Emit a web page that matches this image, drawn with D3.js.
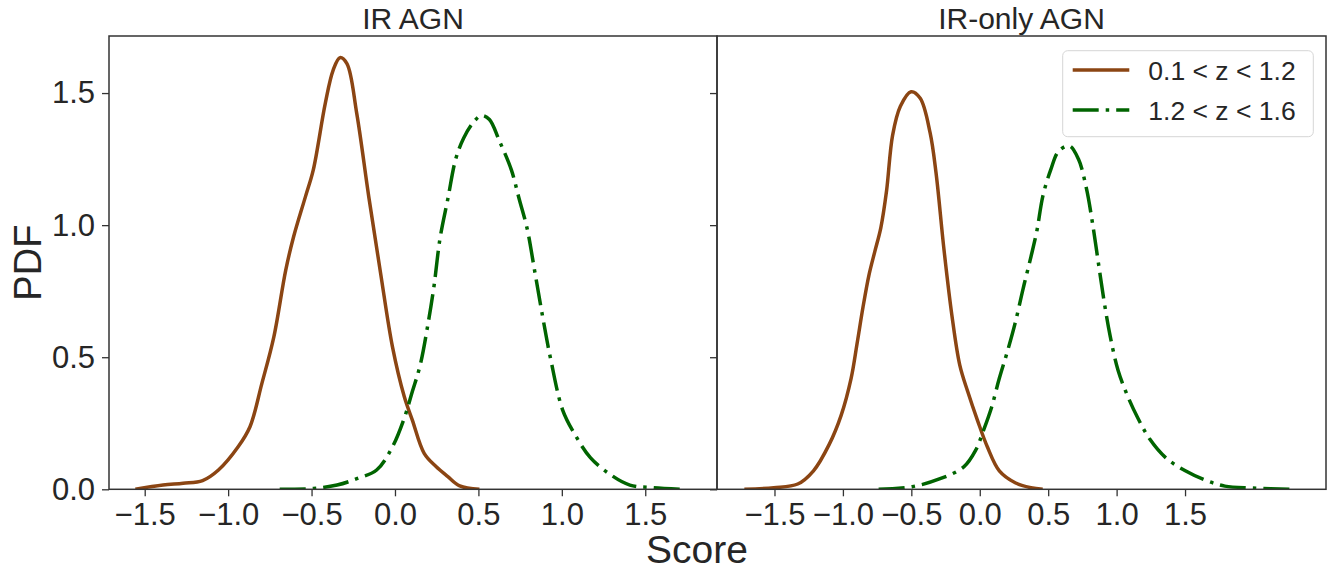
<!DOCTYPE html>
<html>
<head>
<meta charset="utf-8">
<script src="https://cdn.jsdelivr.net/npm/d3@7"></script>
<style>
  body { margin: 0; background: #fff; }
  text { font-family: "Liberation Sans", Arial, sans-serif; fill: #262626; }
  .frame { fill: none; stroke: #333; stroke-width: 1.5; }
  .tick line { stroke: #333; stroke-width: 1.3; }
  .kde { fill: none; stroke-width: 3.5; stroke-linejoin: round; }
</style>
</head>
<body>
<div id="chart"></div>
<script>
// panel titles and series labels
var panelTitles = ["IR AGN", "IR-only AGN"];
var seriesLabels = ["0.1 < z < 1.2", "1.2 < z < 1.6"];
var xTicks = [-1.5, -1.0, -0.5, 0.0, 0.5, 1.0, 1.5];
var yTicks = [0.0, 0.5, 1.0, 1.5];

// IR AGN, low z (brown)
var irLowX = [-1.556, -1.39, -1.27, -1.153, -1.058, -0.94, -0.869, -0.798, -0.726, -0.655, -0.608, -0.537, -0.49, -0.418, -0.371, -0.33, -0.288, -0.229, -0.157, -0.086, -0.015, 0.056, 0.104, 0.175, 0.246, 0.317, 0.388, 0.506];
var irLowY = [0.0, 0.016, 0.023, 0.033, 0.073, 0.161, 0.237, 0.40, 0.577, 0.829, 0.955, 1.107, 1.208, 1.46, 1.586, 1.634, 1.611, 1.422, 1.107, 0.817, 0.539, 0.350, 0.262, 0.136, 0.086, 0.048, 0.013, 0.0];
// IR AGN, high z (green)
var irHighX = [-0.691, -0.49, -0.347, -0.229, -0.11, -0.015, 0.056, 0.104, 0.151, 0.199, 0.234, 0.27, 0.317, 0.364, 0.412, 0.471, 0.518, 0.566, 0.625, 0.697, 0.744, 0.791, 0.839, 0.886, 0.934, 1.005, 1.076, 1.171, 1.29, 1.408, 1.55, 1.728];
var irHighY = [0.0, 0.003, 0.016, 0.04, 0.073, 0.161, 0.27, 0.37, 0.47, 0.63, 0.77, 0.95, 1.10, 1.25, 1.33, 1.39, 1.415, 1.40, 1.32, 1.21, 1.10, 0.99, 0.82, 0.65, 0.49, 0.30, 0.21, 0.12, 0.056, 0.016, 0.006, 0.0];
// IR-only AGN, low z (brown)
var irOnlyLowX = [-1.72, -1.505, -1.33, -1.215, -1.1, -1.013, -0.94, -0.897, -0.853, -0.81, -0.767, -0.723, -0.681, -0.637, -0.58, -0.502, -0.435, -0.363, -0.32, -0.262, -0.204, -0.146, -0.088, -0.016, 0.056, 0.143, 0.259, 0.374, 0.46];
var irOnlyLowY = [0.0, 0.006, 0.02, 0.07, 0.17, 0.28, 0.42, 0.55, 0.69, 0.81, 0.90, 0.99, 1.13, 1.34, 1.45, 1.505, 1.48, 1.35, 1.20, 0.91, 0.66, 0.47, 0.37, 0.26, 0.16, 0.07, 0.025, 0.006, 0.0];
// IR-only AGN, high z (green)
var irOnlyHighX = [-0.739, -0.493, -0.29, -0.117, -0.03, 0.028, 0.086, 0.143, 0.201, 0.259, 0.317, 0.374, 0.418, 0.461, 0.519, 0.577, 0.655, 0.721, 0.779, 0.823, 0.866, 0.909, 0.953, 1.011, 1.083, 1.155, 1.242, 1.358, 1.502, 1.647, 1.791, 1.993, 2.297];
var irOnlyHighY = [0.0, 0.01, 0.04, 0.085, 0.148, 0.224, 0.31, 0.42, 0.52, 0.63, 0.76, 0.88, 0.98, 1.11, 1.21, 1.28, 1.30, 1.25, 1.14, 1.01, 0.86, 0.71, 0.58, 0.45, 0.35, 0.27, 0.19, 0.12, 0.07, 0.035, 0.012, 0.005, 0.0];

var colours = ["#8B4513", "#006400"];
var dashes = [null, "26,7,3.5,7"];

function zip(xs, ys) {
    return xs.map(function(v, i) { return { x: v, y: ys[i] }; });
}

function drawChart() {
    var panels = [
        { title: panelTitles[0], domain: [-1.714, 1.93], left: 109, right: 717,
          series: [zip(irLowX, irLowY), zip(irHighX, irHighY)] },
        { title: panelTitles[1], domain: [-1.92, 2.53], left: 717, right: 1326,
          series: [zip(irOnlyLowX, irOnlyLowY), zip(irOnlyHighX, irOnlyHighY)] }
    ];

    var plotTop = 36, plotBottom = 489.3;
    var tickFmt = d3.format(".1f");

    var svg = d3.select("#chart").append("svg")
        .attr("width", 1340)
        .attr("height", 570);

    var y = d3.scaleLinear().domain([0, 1.716]).range([plotBottom, plotTop]);

    panels.forEach(function(p, pi) {
        var x = d3.scaleLinear().domain(p.domain).range([p.left, p.right]);
        var g = svg.append("g");

        var line = d3.line()
            .x(function(d) { return x(d.x); })
            .y(function(d) { return y(d.y); })
            .curve(d3.curveCatmullRom.alpha(0.5));

        g.append("defs").append("clipPath")
            .attr("id", "clip" + pi)
            .append("rect")
            .attr("x", p.left).attr("y", plotTop)
            .attr("width", p.right - p.left).attr("height", plotBottom - plotTop);

        p.series.forEach(function(s, si) {
            g.append("path")
                .attr("class", "kde")
                .attr("clip-path", "url(#clip" + pi + ")")
                .attr("d", line(s))
                .style("stroke", colours[si])
                .style("stroke-dasharray", dashes[si]);
        });

        // x axis
        var xAxis = d3.axisBottom(x)
            .tickValues(xTicks)
            .tickSize(7)
            .tickPadding(7)
            .tickFormat(function(d) { return tickFmt(d).replace("-", "\u2212"); });
        var xa = g.append("g")
            .attr("transform", "translate(0," + plotBottom + ")")
            .call(xAxis);
        xa.select(".domain").remove();
        xa.attr("font-size", 31).attr("font-family", null);

        // y axis (labels only on the first panel)
        var yAxis = d3.axisLeft(y)
            .tickValues(yTicks)
            .tickSize(7)
            .tickPadding(7)
            .tickFormat(pi === 0 ? tickFmt : function() { return ""; });
        var ya = g.append("g")
            .attr("transform", "translate(" + p.left + ",0)")
            .call(yAxis);
        ya.select(".domain").remove();
        ya.attr("font-size", 31).attr("font-family", null);

        g.append("rect")
            .attr("class", "frame")
            .attr("x", p.left).attr("y", plotTop)
            .attr("width", p.right - p.left).attr("height", plotBottom - plotTop);

        g.append("text")
            .attr("x", (p.left + p.right) / 2)
            .attr("y", 28.5)
            .attr("text-anchor", "middle")
            .attr("font-size", "30px")
            .text(p.title);
    });

    // axis labels
    svg.append("text")
        .attr("transform", "translate(41," + ((plotTop + plotBottom) / 2) + ") rotate(-90)")
        .attr("text-anchor", "middle")
        .attr("font-size", "38px")
        .text("PDF");

    svg.append("text")
        .attr("x", 697)
        .attr("y", 563)
        .attr("text-anchor", "middle")
        .attr("font-size", "39px")
        .text("Score");

    // legend
    var legend = svg.append("g");
    legend.append("rect")
        .attr("x", 1062.7).attr("y", 50.7)
        .attr("width", 250.6).attr("height", 86)
        .attr("rx", 5).attr("ry", 5)
        .style("fill", "#fff")
        .style("fill-opacity", 0.8)
        .style("stroke", "#d6d6d6")
        .style("stroke-width", 1);

    seriesLabels.forEach(function(lab, i) {
        var ly = 70 + i * 40;
        legend.append("line")
            .attr("x1", 1072.7).attr("x2", 1129.3)
            .attr("y1", ly).attr("y2", ly)
            .style("stroke", colours[i])
            .style("stroke-width", 3.5)
            .style("stroke-dasharray", dashes[i]);
        legend.append("text")
            .attr("x", 1148.3)
            .attr("y", ly + 9.8)
            .attr("font-size", "26.5px")
            .text(lab);
    });
}

drawChart();
</script>
</body>
</html>
